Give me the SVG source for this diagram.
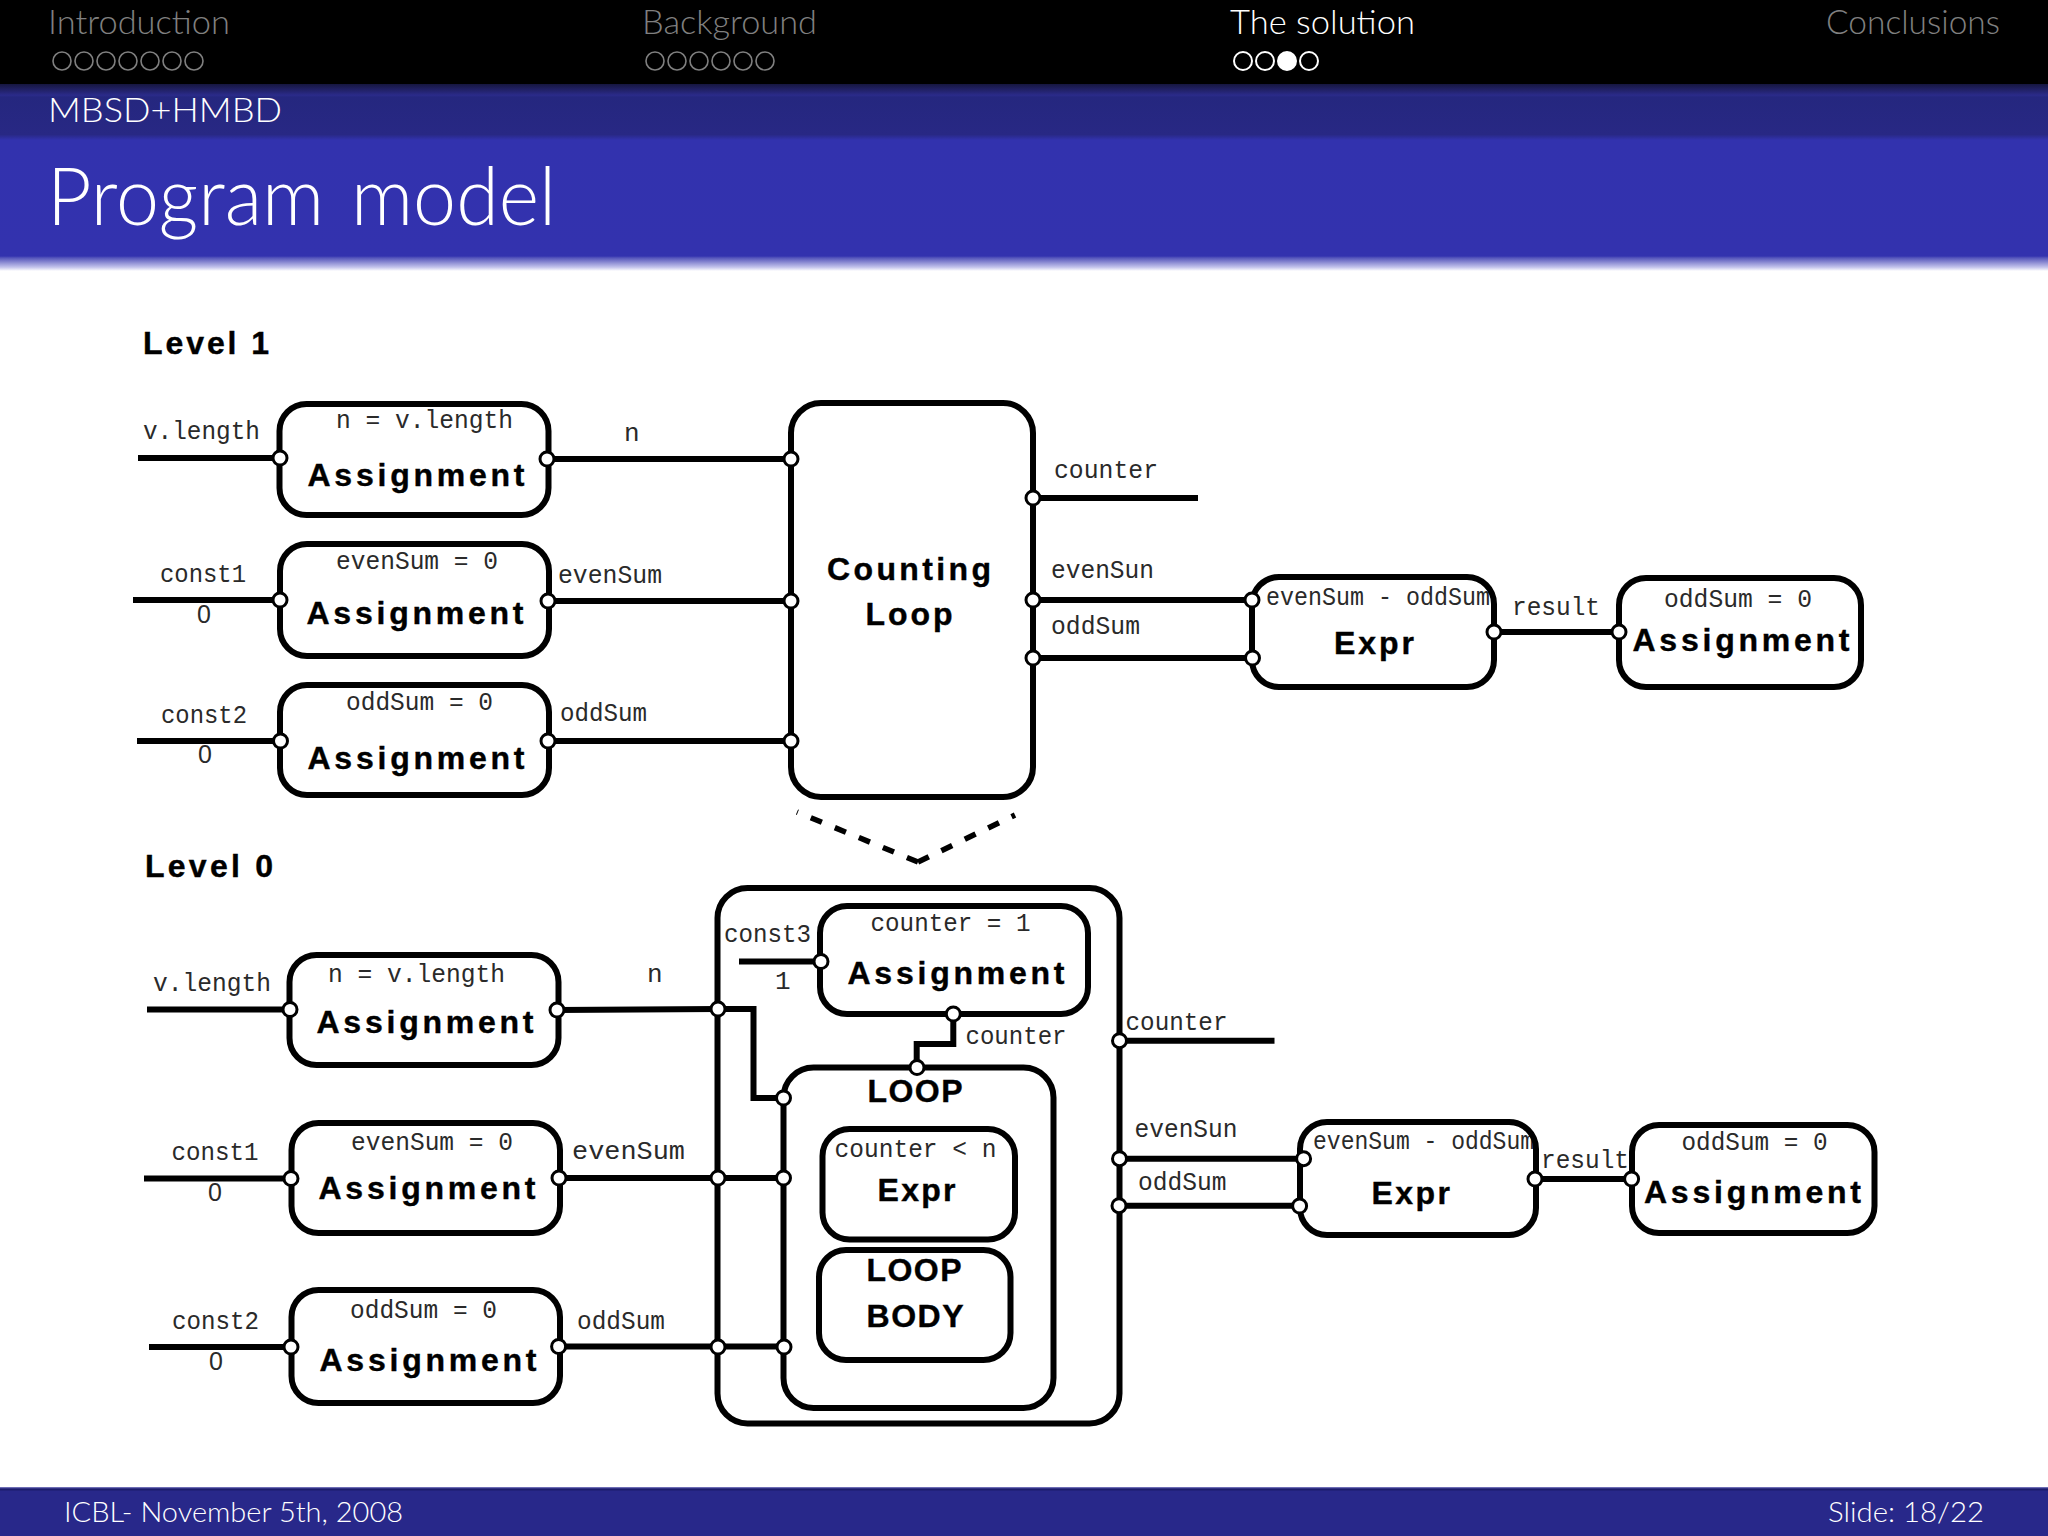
<svg xmlns="http://www.w3.org/2000/svg" width="2048" height="1536" viewBox="0 0 2048 1536">
<style>
.hd{font-family:"Lato","Noto Sans",sans-serif;font-weight:300}
.m{font-family:"Liberation Mono",monospace;font-size:26px;fill:#2a2a2a;transform:translateY(1.5px)}
.z{font-family:"Liberation Sans",sans-serif;font-size:25px}
.b{font-family:"Liberation Sans",Arial,sans-serif;font-weight:700;font-size:32px;fill:#000;stroke:#000;stroke-width:.4}
.box{fill:none;stroke:#000;stroke-width:6}
.w{fill:none;stroke:#000;stroke-width:6}
.p{fill:#fff;stroke:#000;stroke-width:3}
.d{fill:none;stroke:#000;stroke-width:5.5;stroke-dasharray:12 14}
.dg{fill:none;stroke:#808080;stroke-width:1.6}
.dw{fill:none;stroke:#fff;stroke-width:2}
</style>
<defs>
<linearGradient id="hg" gradientUnits="userSpaceOnUse" x1="0" y1="84" x2="0" y2="271">
<stop offset="0" stop-color="#16163f"/>
<stop offset="0.06" stop-color="#2b2b8a"/>
<stop offset="0.07" stop-color="#25277f"/>
<stop offset="0.27" stop-color="#282884"/>
<stop offset="0.3" stop-color="#3232ae"/>
<stop offset="0.92" stop-color="#3332ae"/>
<stop offset="0.93" stop-color="#5656bb"/>
<stop offset="0.98" stop-color="#c4c4ec"/>
<stop offset="1" stop-color="#ffffff"/>
</linearGradient>
</defs>
<rect width="2048" height="1536" fill="#fff"/>
<g id="header">
<rect width="2048" height="84" fill="#000"/>
<rect y="84" width="2048" height="187" fill="url(#hg)"/>
<g class="hd" font-size="33" fill="#808080">
<text x="48" y="34" textLength="182" lengthAdjust="spacingAndGlyphs">Introduction</text>
<text x="642" y="34" textLength="175" lengthAdjust="spacingAndGlyphs">Background</text>
<text x="1230" y="34" textLength="185" lengthAdjust="spacingAndGlyphs" fill="#fff">The solution</text>
<text x="1826" y="34" textLength="174" lengthAdjust="spacingAndGlyphs">Conclusions</text>
<text x="48" y="122" textLength="234" lengthAdjust="spacingAndGlyphs" fill="#fff">MBSD+HMBD</text>
<text x="47" y="225" font-size="80" word-spacing="6" textLength="509" lengthAdjust="spacingAndGlyphs" fill="#fff">Program model</text>
</g>
<g class="dg">
<circle cx="62" cy="61" r="9"/><circle cx="84" cy="61" r="9"/><circle cx="106" cy="61" r="9"/><circle cx="128" cy="61" r="9"/><circle cx="150" cy="61" r="9"/><circle cx="172" cy="61" r="9"/><circle cx="194" cy="61" r="9"/>
<circle cx="655" cy="61" r="9"/><circle cx="677" cy="61" r="9"/><circle cx="699" cy="61" r="9"/><circle cx="721" cy="61" r="9"/><circle cx="743" cy="61" r="9"/><circle cx="765" cy="61" r="9"/>
</g>
<g class="dw">
<circle cx="1243" cy="61" r="9"/><circle cx="1265" cy="61" r="9"/><circle cx="1287" cy="61" r="9" fill="#fff"/><circle cx="1309" cy="61" r="9"/>
</g>
</g>
<g id="footer">
<rect y="1487" width="2048" height="49" fill="#28288a"/>
<rect y="1487" width="2048" height="1.5" fill="#6d6db4"/>
<rect y="1488.5" width="2048" height="2" fill="#1c1c6c"/>
<g class="hd" font-size="28" fill="#fff">
<text x="64" y="1522" textLength="339" lengthAdjust="spacingAndGlyphs">ICBL- November 5th, 2008</text>
<text x="1828" y="1522" textLength="156" lengthAdjust="spacingAndGlyphs">Slide: 18/22</text>
</g>
</g>
<text class="b" x="143" y="354" textLength="126">Level 1</text>
<text class="b" x="145" y="877" textLength="128">Level 0</text>
<g id="connectors">
<path class="w" d="M138 458H280M547 459H791M133 600H280M548 601H791M137 741H280M548 741H791M1033 498H1198M1033 600H1252M1033 658H1252M1494 632H1619"/>
<path class="d" d="M918 862L797 812"/>
<path class="d" d="M918 862L1015 815"/>
<path class="w" d="M147 1009.5H290M557 1010L718 1009H753.5V1098H783M144 1178.5H291M559 1178H783M149 1347H291M558.6 1346.5H784M739 961.5H821M953.3 1014V1044H916.7V1067.5M1119.5 1040.7H1274.5M1119.5 1158.7H1303.6M1119.5 1205.7H1299.6M1535 1179H1631.6"/>
</g>
<g id="L1-assign-n">
<rect class="box" x="279.5" y="404" width="269" height="111" rx="27"/>
<circle class="p" cx="280" cy="458" r="7"/><circle class="p" cx="547" cy="459" r="7"/>
<text class="m" x="143" y="437" textLength="117" lengthAdjust="spacingAndGlyphs">v.length</text>
<text class="m" x="336" y="426" textLength="177" lengthAdjust="spacingAndGlyphs">n = v.length</text>
<text class="b" x="307.5" y="486" textLength="217">Assignment</text>
<text class="m" x="624" y="439">n</text>
</g>
<g id="L1-assign-even">
<rect class="box" x="280" y="544" width="269" height="112" rx="27"/>
<circle class="p" cx="280" cy="600" r="7"/><circle class="p" cx="548" cy="601" r="7"/>
<text class="m" x="160" y="580" textLength="86" lengthAdjust="spacingAndGlyphs">const1</text>
<text class="m z" x="197" y="621">0</text>
<text class="m" x="336" y="567" textLength="162" lengthAdjust="spacingAndGlyphs">evenSum = 0</text>
<text class="b" x="306.5" y="624" textLength="217">Assignment</text>
<text class="m" x="558" y="581" textLength="104" lengthAdjust="spacingAndGlyphs">evenSum</text>
</g>
<g id="L1-assign-odd">
<rect class="box" x="280" y="685" width="269" height="110" rx="27"/>
<circle class="p" cx="280.5" cy="741" r="7"/><circle class="p" cx="548" cy="741" r="7"/>
<text class="m" x="161" y="721" textLength="86" lengthAdjust="spacingAndGlyphs">const2</text>
<text class="m z" x="198" y="761">0</text>
<text class="m" x="346" y="708" textLength="147" lengthAdjust="spacingAndGlyphs">oddSum = 0</text>
<text class="b" x="307.5" y="769" textLength="217">Assignment</text>
<text class="m" x="560" y="719" textLength="87" lengthAdjust="spacingAndGlyphs">oddSum</text>
</g>
<g id="L1-counting-loop">
<rect class="box" x="791" y="403" width="242" height="394" rx="30"/>
<circle class="p" cx="791" cy="459" r="7"/><circle class="p" cx="791" cy="601" r="7"/><circle class="p" cx="791" cy="741" r="7"/>
<circle class="p" cx="1033" cy="498" r="7"/><circle class="p" cx="1033" cy="600" r="7"/><circle class="p" cx="1033" cy="658" r="7"/>
<text class="b" x="827" y="580" textLength="164">Counting</text>
<text class="b" x="865.5" y="625" textLength="87">Loop</text>
<text class="m" x="1054" y="476" textLength="104" lengthAdjust="spacingAndGlyphs">counter</text>
<text class="m" x="1051" y="576" textLength="103" lengthAdjust="spacingAndGlyphs">evenSun</text>
<text class="m" x="1051" y="632" textLength="89" lengthAdjust="spacingAndGlyphs">oddSum</text>
</g>
<g id="L1-expr">
<text class="m" x="1266" y="603" textLength="224" lengthAdjust="spacingAndGlyphs">evenSum - oddSum</text>
<rect class="box" x="1252" y="577" width="242" height="110" rx="27"/>
<circle class="p" cx="1252" cy="600" r="7"/><circle class="p" cx="1252.5" cy="658" r="7"/><circle class="p" cx="1494" cy="632" r="7"/>
<text class="b" x="1334" y="654" textLength="80">Expr</text>
<text class="m" x="1512" y="613" textLength="88" lengthAdjust="spacingAndGlyphs">result</text>
</g>
<g id="L1-assign-result">
<rect class="box" x="1619" y="578" width="242" height="109" rx="27"/>
<circle class="p" cx="1619" cy="632" r="7"/>
<text class="m" x="1664" y="605" textLength="148" lengthAdjust="spacingAndGlyphs">oddSum = 0</text>
<text class="b" x="1632.5" y="651" textLength="217">Assignment</text>
</g>
<g id="L0-assign-n">
<rect class="box" x="289.5" y="955" width="269" height="110" rx="27"/>
<circle class="p" cx="290" cy="1009.5" r="7"/><circle class="p" cx="557" cy="1010" r="7"/>
<text class="m" x="153" y="989" textLength="118" lengthAdjust="spacingAndGlyphs">v.length</text>
<text class="m" x="328" y="980" textLength="177" lengthAdjust="spacingAndGlyphs">n = v.length</text>
<text class="b" x="316.5" y="1033" textLength="217">Assignment</text>
<text class="m" x="647" y="980">n</text>
</g>
<g id="L0-assign-even">
<rect class="box" x="291.5" y="1123" width="268.5" height="110" rx="27"/>
<circle class="p" cx="291" cy="1178.5" r="7"/><circle class="p" cx="559" cy="1178" r="7"/>
<text class="m" x="171.5" y="1158" textLength="87" lengthAdjust="spacingAndGlyphs">const1</text>
<text class="m z" x="208" y="1199">0</text>
<text class="m" x="351" y="1148" textLength="162" lengthAdjust="spacingAndGlyphs">evenSum = 0</text>
<text class="b" x="318.5" y="1199" textLength="217">Assignment</text>
<text class="m" x="572" y="1157.5" textLength="113" lengthAdjust="spacingAndGlyphs">evenSum</text>
</g>
<g id="L0-assign-odd">
<rect class="box" x="291.5" y="1290" width="268.5" height="113" rx="27"/>
<circle class="p" cx="291" cy="1347" r="7"/><circle class="p" cx="558.6" cy="1346.5" r="7"/>
<text class="m" x="172" y="1327" textLength="87" lengthAdjust="spacingAndGlyphs">const2</text>
<text class="m z" x="209" y="1368">0</text>
<text class="m" x="350" y="1316.5" textLength="147" lengthAdjust="spacingAndGlyphs">oddSum = 0</text>
<text class="b" x="319.5" y="1371" textLength="217">Assignment</text>
<text class="m" x="577" y="1327" textLength="88" lengthAdjust="spacingAndGlyphs">oddSum</text>
</g>
<g id="L0-outer">
<rect class="box" x="717.5" y="888" width="402" height="535.5" rx="30"/>
<circle class="p" cx="718" cy="1009" r="7"/><circle class="p" cx="718" cy="1178" r="7"/><circle class="p" cx="718" cy="1347" r="7"/>
<circle class="p" cx="1119.5" cy="1040.7" r="7"/><circle class="p" cx="1119.5" cy="1158.7" r="7"/><circle class="p" cx="1119" cy="1205.7" r="7"/>
<text class="m" x="1125.5" y="1028" textLength="102" lengthAdjust="spacingAndGlyphs">counter</text>
<text class="m" x="1134.5" y="1135.5" textLength="103" lengthAdjust="spacingAndGlyphs">evenSun</text>
<text class="m" x="1138" y="1188" textLength="88.5" lengthAdjust="spacingAndGlyphs">oddSum</text>
</g>
<g id="L0-assign-counter">
<rect class="box" x="820" y="906" width="268" height="108" rx="27"/>
<circle class="p" cx="821" cy="961.5" r="7"/><circle class="p" cx="953.3" cy="1014" r="7"/>
<text class="m" x="724" y="940.5" textLength="87" lengthAdjust="spacingAndGlyphs">const3</text>
<text class="m" x="775" y="987">1</text>
<text class="m" x="870.5" y="929" textLength="160" lengthAdjust="spacingAndGlyphs">counter = 1</text>
<text class="b" x="847.5" y="983.5" textLength="217">Assignment</text>
<text class="m" x="965.5" y="1042.5" textLength="101" lengthAdjust="spacingAndGlyphs">counter</text>
</g>
<g id="L0-loop">
<rect class="box" x="783.5" y="1067.5" width="270" height="340.5" rx="30"/>
<circle class="p" cx="783.5" cy="1098" r="7"/><circle class="p" cx="783.5" cy="1178" r="7"/><circle class="p" cx="784" cy="1347" r="7"/><circle class="p" cx="917" cy="1067.5" r="7"/>
<text class="b" x="867.5" y="1102" textLength="95">LOOP</text>
</g>
<g id="L0-loop-expr">
<rect class="box" x="822.5" y="1129" width="192.5" height="110.5" rx="27"/>
<text class="m" x="834.5" y="1155" textLength="162" lengthAdjust="spacingAndGlyphs">counter &lt; n</text>
<text class="b" x="877.5" y="1201" textLength="78">Expr</text>
</g>
<g id="L0-loop-body">
<rect class="box" x="819" y="1250" width="191.5" height="110" rx="27"/>
<text class="b" x="866.5" y="1281" textLength="95">LOOP</text>
<text class="b" x="866.5" y="1326.5" textLength="97">BODY</text>
</g>
<g id="L0-expr">
<text class="m" x="1313" y="1147" textLength="221" lengthAdjust="spacingAndGlyphs">evenSum - oddSum</text>
<rect class="box" x="1300" y="1122" width="236" height="113" rx="27"/>
<circle class="p" cx="1303.6" cy="1158.7" r="7"/><circle class="p" cx="1299.6" cy="1206" r="7"/><circle class="p" cx="1535" cy="1179" r="7"/>
<text class="b" x="1371.5" y="1204" textLength="78.5">Expr</text>
<text class="m" x="1541" y="1166" textLength="88" lengthAdjust="spacingAndGlyphs">result</text>
</g>
<g id="L0-assign-result">
<rect class="box" x="1632" y="1125" width="242.5" height="108" rx="27"/>
<circle class="p" cx="1631.6" cy="1179" r="7"/>
<text class="m" x="1681.5" y="1148" textLength="146" lengthAdjust="spacingAndGlyphs">oddSum = 0</text>
<text class="b" x="1644" y="1203" textLength="217">Assignment</text>
</g>
</svg>
